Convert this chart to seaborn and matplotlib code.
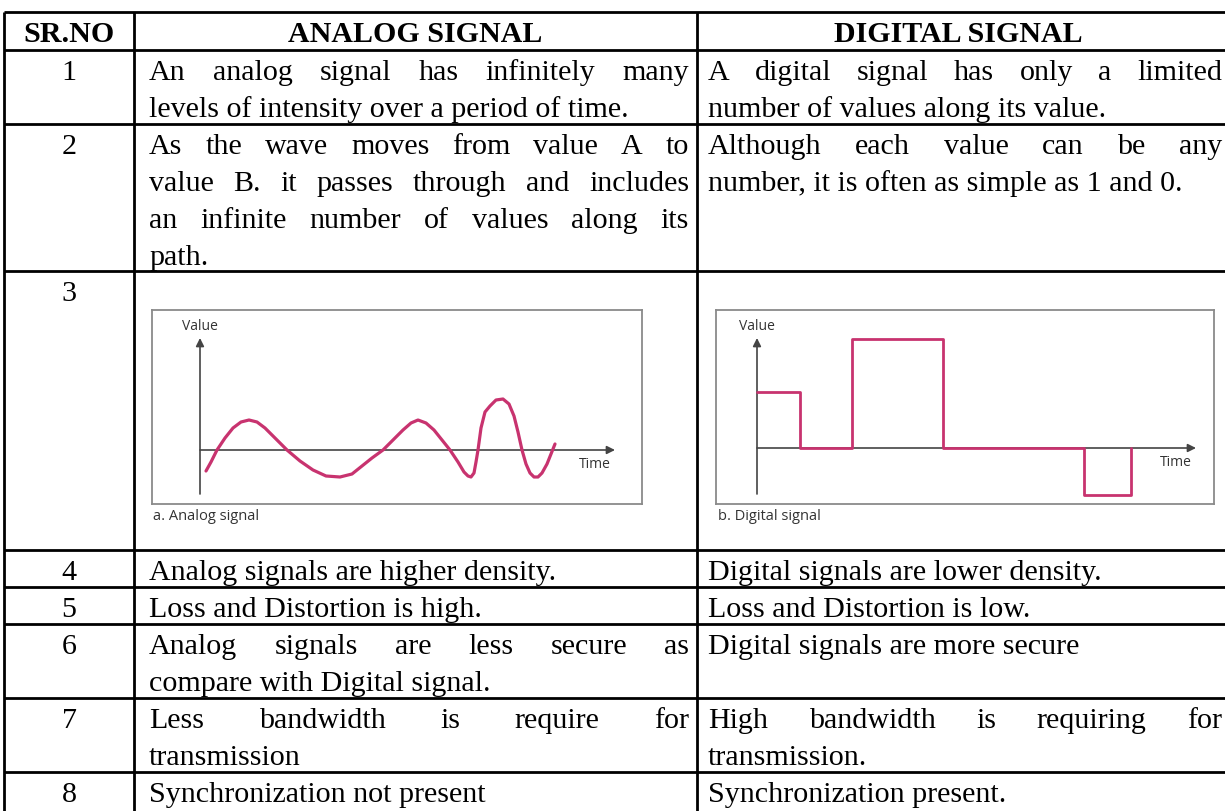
import matplotlib
matplotlib.use("Agg")
import matplotlib.pyplot as plt
import seaborn as sns

sns.set_theme(style="white")
plt.rcParams['font.family'] = ['Liberation Serif', 'DejaVu Serif']

# ---------------- data ----------------
headers = ["SR.NO", "ANALOG SIGNAL", "DIGITAL SIGNAL"]
sr_no = ["1", "2", "3", "4", "5", "6", "7", "8"]
analog_text = [
    ["An analog signal has infinitely many", "levels of intensity over a period of time."],
    ["As the wave moves from value A to", "value B. it passes through and includes",
     "an infinite number of values along its", "path."],
    [],
    ["Analog signals are higher density."],
    ["Loss and Distortion is high."],
    ["Analog signals are less secure as", "compare with Digital signal."],
    ["Less bandwidth is require for", "transmission"],
    ["Synchronization not present"],
]
digital_text = [
    ["A digital signal has only a limited", "number of values along its value."],
    ["Although each value can be any", "number, it is often as simple as 1 and 0."],
    [],
    ["Digital signals are lower density."],
    ["Loss and Distortion is low."],
    ["Digital signals are more secure"],
    ["High bandwidth is requiring for", "transmission."],
    ["Synchronization present."],
]
analog_t = [6, 11, 17, 25, 33, 41, 49, 57, 65, 76, 87, 100, 113, 126, 140, 152,
            162, 172, 183, 193, 203, 211, 218, 226, 234, 242, 250, 258, 264, 268, 271, 274,
            276, 278, 281, 285, 290, 296, 303, 309, 314, 318, 322, 326, 330, 334, 338, 342,
            347, 351, 355]
analog_v = [-21, -12, 0, 12, 22, 28, 30, 28, 22, 11, 0, -11, -20, -26, -27, -24,
            -16, -8, 0, 10, 20, 27, 30, 27, 20, 10, 0, -12, -22, -26, -27, -23,
            -12, 0, 22, 38, 44, 50, 51, 46, 34, 18, 0, -14, -23, -27, -27, -23,
            -14, -4, 6]
digital_t = [0, 43, 95, 186, 327, 374]
digital_v = [56, 0, 109, 0, -47, 0]
captions = ["a. Analog signal", "b. Digital signal"]
axis_labels = ["Value", "Time"]

# ---------------- layout ----------------
W, H = 1225, 812
row_edges = [13, 51, 125, 272, 551, 588, 625, 699, 773, 818]
col_edges = [4, 134, 697, 1260]
FS = 21.6          # table font size (pt)
LINE = 37.0
FIRST = 19.0
BASE = 10.0
PINK = "#c8336f"
AXC = "#444444"
LBL = "#333333"
SANS = ['Open Sans', 'DejaVu Sans']

fig = plt.figure(figsize=(W / 100, H / 100), dpi=100)
ax = fig.add_axes([0, 0, 1, 1])
ax.set_xlim(0, W)
ax.set_ylim(H, 0)
ax.axis('off')
renderer = fig.canvas.get_renderer()

# table grid
ax.hlines(row_edges, col_edges[0], col_edges[-1], color='black', lw=2.0)
ax.vlines(col_edges[:3], row_edges[0], row_edges[-1], color='black', lw=2.0)


def put_line(x0, x1, yb, s, justify):
    kw = dict(fontsize=FS, color='black', va='baseline', ha='left')
    if not justify or len(s.split()) < 2:
        ax.text(x0, yb, s, **kw)
        return
    words = s.split()
    ts = [ax.text(0, yb, w, **kw) for w in words]
    ws = [t.get_window_extent(renderer).width for t in ts]
    gap = (x1 - x0 - sum(ws)) / (len(words) - 1)
    x = x0
    for t, w in zip(ts, ws):
        t.set_x(x)
        x += w + gap


# header
hy = (row_edges[0] + row_edges[1]) / 2 + BASE
hx = [(col_edges[0] + col_edges[1]) / 2, (col_edges[1] + col_edges[2]) / 2, 958]
for x, h in zip(hx, headers):
    ax.text(x, hy, h, fontsize=FS, fontweight='bold', ha='center', va='baseline', color='black')

cells = [(149, 689), (708, 1222)]
for i, n in enumerate(sr_no):
    top = row_edges[i + 1]
    ax.text(hx[0], top + FIRST + BASE, n, fontsize=FS, ha='center', va='baseline', color='black')
    for (x0, x1), para in zip(cells, [analog_text[i], digital_text[i]]):
        for k, s in enumerate(para):
            put_line(x0, x1, top + FIRST + BASE + k * LINE, s, k < len(para) - 1)


# ---------------- embedded signal pictures ----------------
def make_inset(px0, px1, py0, py1, ox, oy):
    a = fig.add_axes([px0 / W, 1 - py1 / H, (px1 - px0) / W, (py1 - py0) / H])
    a.set_xlim(px0 - ox, px1 - ox)
    a.set_ylim(oy - py1, oy - py0)
    a.set_xticks([]); a.set_yticks([])
    for sp in a.spines.values():
        sp.set_color('#8a8a8a'); sp.set_linewidth(1.3); sp.set_visible(True)
    a.set_facecolor('white')
    return a


def draw_axes(a, ox, oy, xtip, ytip, ybot):
    a.annotate('', xy=(xtip - ox, 0), xytext=(0, 0),
               arrowprops=dict(arrowstyle='-|>', color=AXC, lw=1.2, mutation_scale=12,
                               shrinkA=0, shrinkB=0), zorder=1)
    a.annotate('', xy=(0, oy - ytip), xytext=(0, oy - ybot),
               arrowprops=dict(arrowstyle='-|>', color=AXC, lw=1.2, mutation_scale=12,
                               shrinkA=0, shrinkB=0), zorder=1)


# analog
ax_a = make_inset(152, 642, 311, 505, 200, 451)
draw_axes(ax_a, 200, 451, 615, 339, 495)
sns.lineplot(x=analog_t, y=analog_v, ax=ax_a, color=PINK, lw=2.3, sort=False,
             estimator=None, legend=False, zorder=3)
ax_a.text(0, 451 - 326, axis_labels[0], family=SANS, fontsize=10, color=LBL,
          ha='center', va='center')
ax_a.text(579 - 200, 451 - 465, axis_labels[1], family=SANS, fontsize=10, color=LBL,
          ha='left', va='center')
ax_a.set_xlabel(''); ax_a.set_ylabel('')

# digital
ax_d = make_inset(716, 1214, 311, 505, 757, 449)
draw_axes(ax_d, 757, 449, 1196, 339, 495)
sns.lineplot(x=digital_t, y=digital_v, ax=ax_d, color=PINK, lw=2.0, sort=False,
             estimator=None, legend=False, drawstyle='steps-post', zorder=3)
ax_d.text(0, 449 - 326, axis_labels[0], family=SANS, fontsize=10, color=LBL,
          ha='center', va='center')
ax_d.text(1160 - 757, 449 - 463, axis_labels[1], family=SANS, fontsize=10, color=LBL,
          ha='left', va='center')
ax_d.set_xlabel(''); ax_d.set_ylabel('')

ax.text(153, 517, captions[0], family=SANS, fontsize=10.5, color=LBL, ha='left', va='center')
ax.text(718, 517, captions[1], family=SANS, fontsize=10.5, color=LBL, ha='left', va='center')

fig.savefig("out.png", dpi=100, facecolor='white')
